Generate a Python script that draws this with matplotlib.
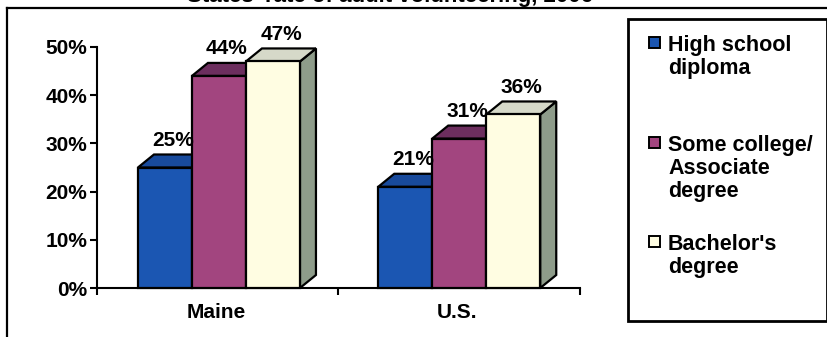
import matplotlib
matplotlib.use("Agg")
import matplotlib.pyplot as plt
from matplotlib.patches import Polygon, Rectangle
from matplotlib.lines import Line2D

plt.rcParams['font.family'] = ['Liberation Sans', 'DejaVu Sans']
plt.rcParams['font.weight'] = 'bold'

# ---- data ----
categories = ["Maine", "U.S."]
series_names = ["High school\ndiploma", "Some college/\nAssociate\ndegree", "Bachelor's\ndegree"]
high_school = [25, 21]
some_college = [44, 31]
bachelors = [47, 36]
yticks = [0, 10, 20, 30, 40, 50]
title = "States' rate of adult volunteering, 2006"

series = [high_school, some_college, bachelors]
front_colors = ["#1b56b2", "#a2457f", "#fffde2"]
top_colors = ["#184a9c", "#6c2e5e", "#d6d9c9"]
side_colors = ["#143d80", "#5a2450", "#8e9c8a"]

W, H = 828, 337
fig = plt.figure(figsize=(W / 100, H / 100), dpi=100)
fig.patch.set_facecolor("white")

# axes placement (pixels)
L, R, T, B = 97, 580, 47, 288
ax = fig.add_axes([L / W, (H - B) / H, (R - L) / W, (B - T) / H])
ax.set_xlim(0, 2)
ax.set_ylim(0, 50)
ax.patch.set_alpha(0)
for s in ["top", "right"]:
    ax.spines[s].set_visible(False)
for s in ["left", "bottom"]:
    ax.spines[s].set_linewidth(1.5)
    ax.spines[s].set_color("black")

ax.set_yticks(yticks)
ax.set_yticklabels([f"{v}%" for v in yticks], fontsize=15, fontweight='bold')
ax.tick_params(axis='y', direction='out', length=5, width=1.5, pad=2)
ax.set_xticks([0, 1, 2])
ax.set_xticklabels([])
ax.tick_params(axis='x', direction='out', length=5, width=1.5)

px_x = (R - L) / 2.0   # pixels per x unit
px_y = (B - T) / 50.0  # pixels per y unit
dx = 16 / px_x
dy = 13 / px_y
bw = 54 / px_x
centers = [0.505, 1.5]

for ci, c in enumerate(centers):
    x_start = c - 1.5 * bw
    for si, vals in enumerate(series):
        v = vals[ci]
        x0 = x_start + si * bw
        x1 = x0 + bw
        side = Polygon([(x1, 0), (x1 + dx, dy), (x1 + dx, v + dy), (x1, v)],
                       closed=True, facecolor=side_colors[si], edgecolor="black",
                       lw=1.6, clip_on=False, zorder=2 + si * 3)
        top = Polygon([(x0, v), (x1, v), (x1 + dx, v + dy), (x0 + dx, v + dy)],
                      closed=True, facecolor=top_colors[si], edgecolor="black",
                      lw=1.6, clip_on=False, zorder=3 + si * 3)
        front = Rectangle((x0, 0), bw, v, facecolor=front_colors[si],
                          edgecolor="black", lw=1.6, clip_on=False, zorder=4 + si * 3)
        ax.add_patch(side)
        ax.add_patch(top)
        ax.add_patch(front)
        ax.text(x0 + bw / 2 + dx / 2, v + 27 / px_y, f"{v}%", ha='center', va='center',
                fontsize=15, fontweight='bold', zorder=20, clip_on=False)

for c, name in zip(centers, categories):
    ax.text(c - 0.01, -24 / px_y, name, ha='center', va='center', fontsize=15,
            fontweight='bold')

# outer frame lines
fig.add_artist(Line2D([7 / W, 7 / W], [0, 1 - 8 / H], color="black", lw=1.6))
fig.add_artist(Line2D([7 / W, 1], [1 - 8 / H, 1 - 8 / H], color="black", lw=1.6))

# title (clipped by the top edge, as in the reference)
fig.text(390 / W, 1 + 14 / H, title, ha='center', va='top', fontsize=16,
         fontweight='bold')

# legend box
lx0, ly0, lx1, ly1 = 628, 19, 827, 321
fig.add_artist(Rectangle((lx0 / W, 1 - ly1 / H), (lx1 - lx0) / W, (ly1 - ly0) / H,
                         transform=fig.transFigure, facecolor="white",
                         edgecolor="black", lw=2.0))
entry_tops = [35, 135, 234]
for name, col, ty in zip(series_names, front_colors, entry_tops):
    fig.add_artist(Rectangle((649 / W, 1 - (ty + 13) / H), 11 / W, 11 / H,
                             transform=fig.transFigure, facecolor=col,
                             edgecolor="black", lw=1.4))
    fig.text(668 / W, 1 - ty / H, name, ha='left', va='top', fontsize=15.5,
             fontweight='bold', linespacing=1.13)

fig.savefig("out.png", dpi=100)
